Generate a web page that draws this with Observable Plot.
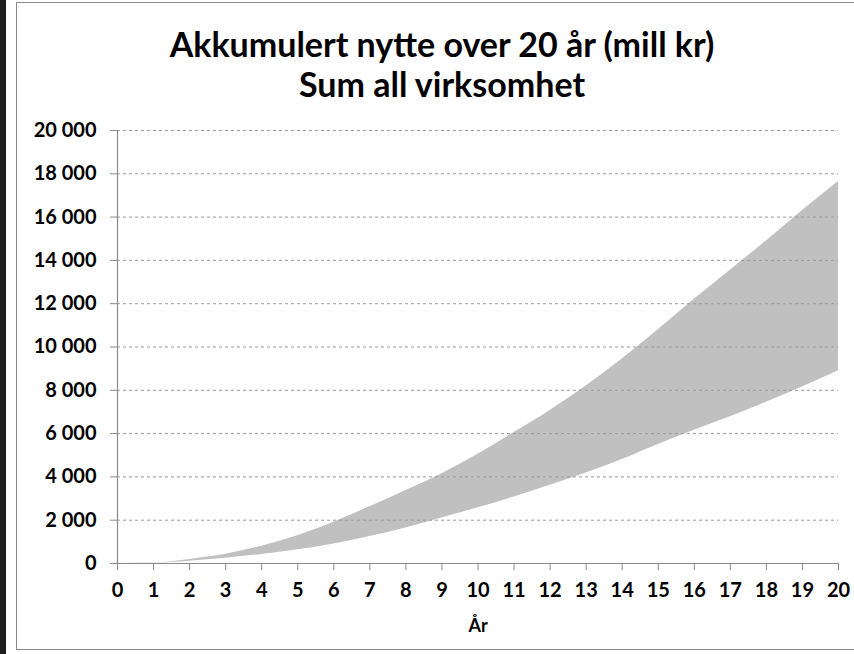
<!DOCTYPE html>
<html>
<head>
<meta charset="utf-8">
<script src="https://cdn.jsdelivr.net/npm/d3@7"></script>
<script src="https://cdn.jsdelivr.net/npm/@observablehq/plot@0.6"></script>
<style>
  html, body { margin: 0; padding: 0; background: #fff; }
  body { width: 854px; height: 654px; position: relative; overflow: hidden; font-family: Lato, "Open Sans", sans-serif; }
  #bar { position: absolute; left: 0; top: 0; width: 6px; height: 654px; background: #1e1e1e; }
  #frame { position: absolute; left: 16px; top: 2px; width: 850px; height: 648px; border: 1.5px solid #8a8a8a; box-sizing: border-box; }
  #title { position: absolute; left: 0; top: 24px; width: 884px; text-align: center; font-weight: 700; font-size: 34px; line-height: 40px; color: #000; }
  #chart { position: absolute; left: 0; top: 110px; }
</style>
</head>
<body>
<div id="bar"></div>
<div id="frame"></div>
<div id="title">Akkumulert nytte over 20 år (mill kr)<br>Sum all virksomhet</div>
<div id="chart"></div>
<script>
const years = [0, 1, 2, 3, 4, 5, 6, 7, 8, 9, 10, 11, 12, 13, 14, 15, 16, 17, 18, 19, 20];
const upper = [0, 20, 190, 430, 800, 1280, 1900, 2620, 3370, 4150, 5050, 6050, 7070, 8200, 9450, 10800, 12200, 13550, 14900, 16300, 17650];
const lower = [0, 10, 105, 245, 415, 630, 905, 1250, 1640, 2100, 2570, 3070, 3620, 4180, 4800, 5500, 6150, 6780, 7450, 8150, 8900];
const yTicks = [0, 2000, 4000, 6000, 8000, 10000, 12000, 14000, 16000, 18000, 20000];
const xLabel = "År";

const data = years.map((y, i) => ({year: y, lower: lower[i], upper: upper[i]}));
const fmt = d => d3.format(",")(d).replace(/,/g, " ");

const chart = Plot.plot({
  width: 854,
  height: 544,
  marginLeft: 117,
  marginRight: 16,
  marginTop: 20,
  marginBottom: 91,
  style: {fontFamily: "Lato, 'Open Sans', sans-serif", background: "transparent"},
  x: {domain: [0, 20]},
  y: {domain: [0, 20000]},
  marks: [
    Plot.areaY(data, {x: "year", y1: "lower", y2: "upper", fill: "#c0c0c0", curve: "monotone-x"}),
    Plot.ruleY(yTicks.filter(d => d > 0), {stroke: "#9a9a9a", strokeWidth: 1, strokeDasharray: "3,3"}),
    Plot.ruleX([0], {stroke: "#8a8a8a", strokeWidth: 1.2}),
    Plot.ruleY([0], {stroke: "#8a8a8a", strokeWidth: 1.2}),
    Plot.axisY({ticks: yTicks, tickFormat: fmt, tickSize: 7, tickPadding: 14, stroke: "#8a8a8a", fill: "#000", fontSize: 20, fontWeight: "bold", label: null}),
    Plot.axisX({ticks: years, tickFormat: d => String(d), tickSize: 7, tickPadding: 12, stroke: "#8a8a8a", fill: "#000", fontSize: 20, fontWeight: "bold", label: null}),
    Plot.text([xLabel], {frameAnchor: "bottom", dy: 68, text: d => d, fontSize: 18, fontWeight: "bold", fill: "#000"})
  ]
});
document.getElementById("chart").appendChild(chart);
</script>
</body>
</html>
